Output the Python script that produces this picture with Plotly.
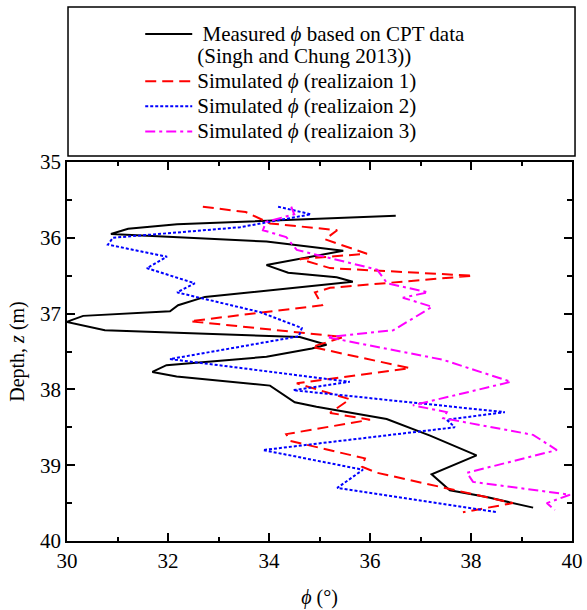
import plotly.graph_objects as go

# Measured phi (CPT) profile
meas_phi = [36.51, 32.18, 31.21, 30.87, 33.95, 35.47, 33.95, 34.38, 35.34, 35.66, 32.73, 32.20,
            32.04, 30.32, 29.99, 30.75, 34.61, 35.14, 34.85, 33.95, 31.97, 31.69, 32.17, 34.02,
            34.51, 34.94, 36.33, 37.19, 38.11, 37.22, 37.58, 38.31, 39.23]
meas_z = [35.71, 35.82, 35.88, 35.95, 36.05, 36.17, 36.36, 36.46, 36.52, 36.58, 36.78, 36.89,
          36.97, 37.03, 37.11, 37.22, 37.31, 37.41, 37.46, 37.57, 37.68, 37.77, 37.83, 37.95,
          38.17, 38.23, 38.39, 38.61, 38.87, 39.12, 39.33, 39.42, 39.56]

# Realization 1
r1_phi = [32.69, 33.54, 34.02, 35.35, 35.11, 35.94, 34.61, 35.21, 38.04, 35.21, 34.91, 35.05,
          32.44, 35.47, 34.85, 36.79, 34.55, 35.60, 35.21, 36.00, 34.34, 34.42, 35.90, 35.84,
          36.14, 38.83, 37.84]
r1_z = [35.59, 35.66, 35.81, 35.90, 36.02, 36.21, 36.28, 36.40, 36.50, 36.66, 36.72, 36.89,
        37.10, 37.31, 37.44, 37.72, 37.92, 38.13, 38.31, 38.40, 38.59, 38.68, 38.91, 39.02,
        39.10, 39.50, 39.62]

# Realization 2
r2_phi = [34.18, 34.83, 33.43, 30.91, 30.81, 31.98, 31.58, 32.53, 32.18, 33.82, 34.65, 34.59,
          32.04, 35.60, 34.48, 38.67, 37.52, 37.68, 33.88, 35.86, 35.35, 38.51]
r2_z = [35.59, 35.69, 35.86, 36.00, 36.09, 36.25, 36.40, 36.60, 36.72, 36.98, 37.19, 37.30,
        37.60, 37.90, 38.01, 38.30, 38.40, 38.50, 38.80, 39.06, 39.30, 39.62]

# Realization 3
r3_phi = [34.44, 34.50, 33.94, 33.88, 34.34, 34.55, 36.14, 36.34, 37.15, 36.65, 37.23, 36.46,
          35.15, 37.45, 38.79, 36.85, 37.52, 37.45, 39.23, 39.70, 37.92, 38.04, 39.96, 39.50, 39.66]
r3_z = [35.59, 35.69, 35.79, 35.90, 35.99, 36.16, 36.42, 36.60, 36.72, 36.79, 36.91, 37.22,
        37.31, 37.61, 37.90, 38.21, 38.30, 38.38, 38.60, 38.80, 39.10, 39.22, 39.39, 39.50, 39.59]

x_ticks = [30, 32, 34, 36, 38, 40]
y_ticks = [35, 36, 37, 38, 39, 40]

FONT = "Liberation Serif, Times New Roman, serif"
PHI = "<i>\u03d5</i>"


def big(s):
    return '<span style="font-size:21px">' + s + '</span>'


fig = go.Figure()
fig.add_trace(go.Scatter(x=meas_phi, y=meas_z, mode="lines", legendgroup="a",
                         name=big(" Measured " + PHI + " based on CPT data") + "<br>"
                         + big("(Singh and Chung 2013))"),
                         line=dict(color="black", width=2)))
fig.add_trace(go.Scatter(x=r1_phi, y=r1_z, mode="lines", legendgroup="b",
                         name=big("Simulated " + PHI + " (realizaion 1)"),
                         line=dict(color="#FF0000", width=2, dash="11px,6px")))
fig.add_trace(go.Scatter(x=r2_phi, y=r2_z, mode="lines", legendgroup="c",
                         name=big("Simulated " + PHI + " (realizaion 2)"),
                         line=dict(color="#0000FF", width=2, dash="3px,2px")))
fig.add_trace(go.Scatter(x=r3_phi, y=r3_z, mode="lines", legendgroup="d",
                         name=big("Simulated " + PHI + " (realizaion 3)"),
                         line=dict(color="#FF00FF", width=2, dash="10px,4px,3px,4px")))

axis_common = dict(showline=True, linecolor="black", linewidth=1.5, mirror="allticks",
                   ticks="inside", tickcolor="black", tickwidth=1.5, ticklen=8,
                   showgrid=False, zeroline=False, automargin=False,
                   tickfont=dict(family=FONT, size=21, color="black"))

fig.update_xaxes(range=[30, 40], tickvals=x_ticks, ticktext=[str(v) for v in x_ticks],
                 minor=dict(dtick=1, ticks="inside", ticklen=4, tickcolor="black", tickwidth=1.5),
                 title=dict(text=PHI + " (°)", font=dict(family=FONT, size=20, color="black"),
                            standoff=18),
                 **axis_common)
fig.update_yaxes(range=[40, 35], tickvals=y_ticks, ticktext=[str(v) for v in y_ticks],
                 minor=dict(dtick=0.5, ticks="inside", ticklen=5, tickcolor="black", tickwidth=1.5),
                 title=dict(text="Depth, <i>z</i> (m)", font=dict(family=FONT, size=20, color="black"),
                            standoff=10),
                 **axis_common)

fig.add_shape(type="rect", xref="paper", yref="paper",
              x0=0.002, x1=1.006, y0=1.0158, y1=1.409,
              line=dict(color="black", width=1.5), fillcolor="rgba(0,0,0,0)")

fig.update_layout(
    width=587, height=610,
    margin=dict(l=67, r=15, t=162, b=69),
    paper_bgcolor="white", plot_bgcolor="white",
    font=dict(family=FONT, size=20, color="black"),
    showlegend=True,
    legend=dict(x=0.145, y=1.384, xanchor="left", yanchor="top",
                bgcolor="rgba(0,0,0,0)", borderwidth=0, itemwidth=47,
                font=dict(family=FONT, size=17, color="black"),
                valign="top", tracegroupgap=0, traceorder="normal"),
)

fig.write_html("out.html")
